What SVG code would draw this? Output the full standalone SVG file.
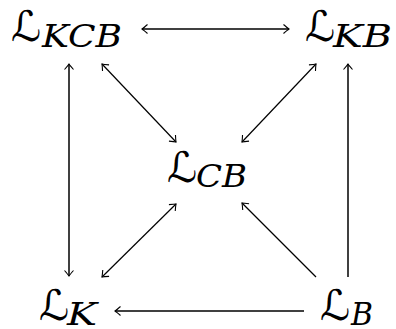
<svg xmlns="http://www.w3.org/2000/svg" width="396" height="329" viewBox="0 0 396 329">
<style>
.L{font-family:"DejaVu Sans",sans-serif;font-size:42px;fill:#000}
.s{font-family:"DejaVu Serif",serif;font-style:italic;font-size:31px;fill:#000}
.a{stroke:#000;stroke-width:1.5;fill:none}
.d{stroke:#000;stroke-width:1.2;fill:none}
</style>
<defs>
<marker id="h" viewBox="-7 -6 8 12" refX="0" refY="0" markerWidth="8" markerHeight="12" markerUnits="userSpaceOnUse" orient="auto-start-reverse">
<path d="M-5.5,-4.5 Q-1.5,-1 0,0 Q-1.5,1 -5.5,4.5" fill="none" stroke="#000" stroke-width="1.1"/>
</marker>
</defs>
<rect width="396" height="329" fill="#fff"/>
<g id="KCB"><text class="L" x="11" y="41">ℒ</text><text class="s" x="42" y="47" textLength="80" lengthAdjust="spacingAndGlyphs">KCB</text></g>
<g id="KB"><text class="L" x="305" y="41">ℒ</text><text class="s" x="333" y="47" textLength="59" lengthAdjust="spacingAndGlyphs">KB</text></g>
<g id="CB"><text class="L" x="167" y="182">ℒ</text><text class="s" x="196" y="187" textLength="51" lengthAdjust="spacingAndGlyphs">CB</text></g>
<g id="K"><text class="L" x="39" y="320">ℒ</text><text class="s" x="67" y="325" textLength="30" lengthAdjust="spacingAndGlyphs">K</text></g>
<g id="B"><text class="L" x="320" y="320">ℒ</text><text class="s" x="351" y="325" textLength="22" lengthAdjust="spacingAndGlyphs">B</text></g>
<g id="connectors">
<line class="a" x1="142" y1="29" x2="289" y2="29" marker-start="url(#h)" marker-end="url(#h)"/>
<line class="a" x1="69" y1="64" x2="69" y2="276" marker-start="url(#h)" marker-end="url(#h)"/>
<line class="a" x1="348" y1="277" x2="348" y2="64" marker-end="url(#h)"/>
<line class="a" x1="304" y1="311" x2="115" y2="311" marker-end="url(#h)"/>
<line class="d" x1="102" y1="64" x2="176" y2="142" marker-start="url(#h)" marker-end="url(#h)"/>
<line class="d" x1="316" y1="64" x2="242" y2="142" marker-start="url(#h)" marker-end="url(#h)"/>
<line class="d" x1="176" y1="204" x2="102" y2="277" marker-start="url(#h)" marker-end="url(#h)"/>
<line class="d" x1="316" y1="277" x2="242" y2="203" marker-end="url(#h)"/>
</g>
</svg>
